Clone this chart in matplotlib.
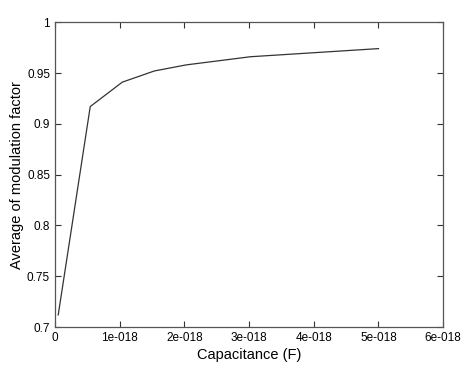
import matplotlib
matplotlib.use('Agg')
import matplotlib.pyplot as plt

# Data
capacitance = [0.05e-18, 0.545e-18, 1.04e-18, 1.535e-18, 2.03e-18, 2.525e-18,
               3.02e-18, 3.515e-18, 4.01e-18, 4.505e-18, 5.0e-18]
modulation = [0.712, 0.917, 0.941, 0.952, 0.958, 0.962, 0.966, 0.968, 0.970, 0.972, 0.974]

x_ticks = [0, 1e-18, 2e-18, 3e-18, 4e-18, 5e-18, 6e-18]
x_tick_labels = ['0', '1e-018', '2e-018', '3e-018', '4e-018', '5e-018', '6e-018']
y_ticks = [0.7, 0.75, 0.8, 0.85, 0.9, 0.95, 1.0]
y_tick_labels = ['0.7', '0.75', '0.8', '0.85', '0.9', '0.95', '1']

plt.rcParams['font.family'] = ['Liberation Sans', 'DejaVu Sans']

fig = plt.figure(figsize=(4.74, 3.76), dpi=100)
ax = fig.add_axes([0.116, 0.130, 0.819, 0.811])

ax.plot(capacitance, modulation, color='#333333', linewidth=0.9)

ax.set_xlim(0, 6e-18)
ax.set_ylim(0.7, 1.0)
ax.set_xticks(x_ticks)
ax.set_xticklabels(x_tick_labels)
ax.set_yticks(y_ticks)
ax.set_yticklabels(y_tick_labels)
ax.tick_params(direction='in', top=True, right=True, labelsize=8.5, length=4,
               width=0.8, colors='#333333', labelcolor='black')
for s in ax.spines.values():
    s.set_color('#555555')
    s.set_linewidth(0.9)

ax.set_xlabel('Capacitance (F)', fontsize=10.5, labelpad=3)
ax.set_ylabel('Average of modulation factor', fontsize=10.5, labelpad=2)

fig.savefig('out.png', dpi=100)
